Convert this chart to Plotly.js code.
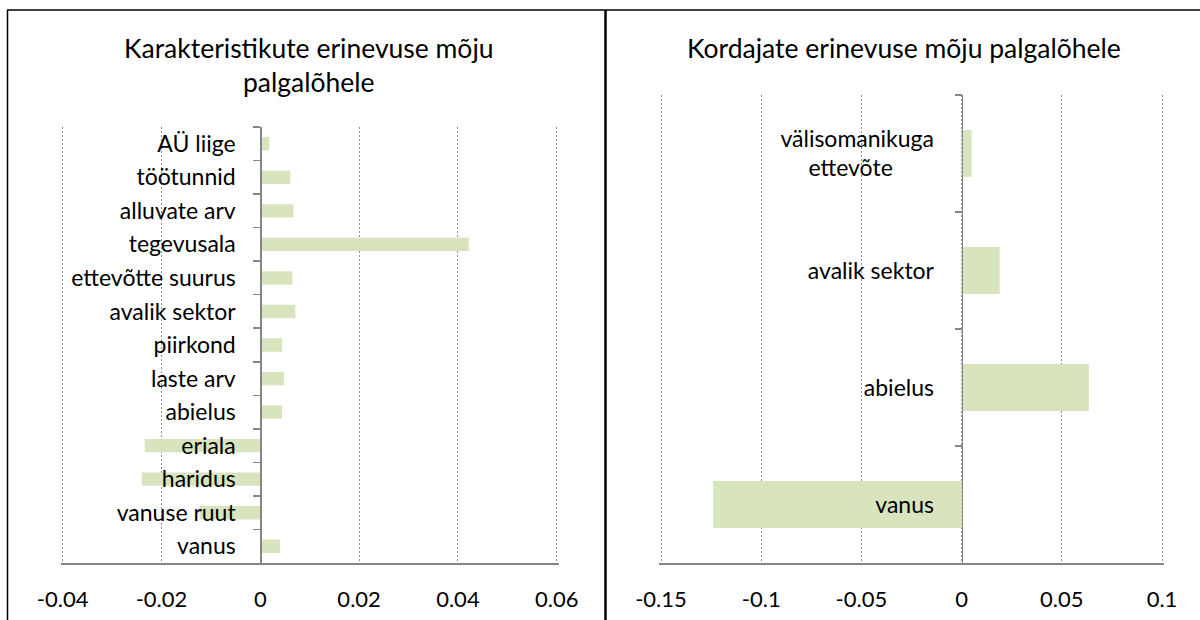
<!DOCTYPE html>
<html>
<head>
<meta charset="utf-8">
<script src="https://cdn.plot.ly/plotly-3.0.1.min.js"></script>
<style>html,body{margin:0;padding:0;background:#fff;}#chart{width:1200px;height:620px;}</style>
</head>
<body>
<div id="chart"></div>
<script>
// Left chart: characteristics effect (top to bottom)
const leftCategories = ["AÜ liige", "töötunnid", "alluvate arv", "tegevusala", "ettevõtte suurus", "avalik sektor", "piirkond", "laste arv", "abielus", "eriala", "haridus", "vanuse ruut", "vanus"];
const leftValues = [0.0018, 0.0061, 0.0067, 0.0422, 0.0065, 0.0071, 0.0044, 0.0048, 0.0044, -0.0234, -0.0240, -0.0123, 0.0040];
const leftTickVals = [-0.04, -0.02, 0, 0.02, 0.04, 0.06];
const leftTickText = ["-0.04", "-0.02", "0", "0.02", "0.04", "0.06"];

// Right chart: coefficients effect (top to bottom)
const NB = "\u00a0";
const rightCategories = ["välisomanikuga<br>ettevõte" + NB.repeat(7), "avalik sektor", "abielus", "vanus"];
const rightValues = [0.0050, 0.0190, 0.0635, -0.1240];
const rightTickVals = [-0.15, -0.1, -0.05, 0, 0.05, 0.1];
const rightTickText = ["-0.15", "-0.1", "-0.05", "0", "0.05", "0.1"];

const leftTitle = "Karakteristikute erinevuse mõju<br>palgalõhele";
const rightTitle = "Kordajate erinevuse mõju palgalõhele";

const W = 1200, H = 620;
const FONT = "Lato, 'Noto Sans', sans-serif";
const barColor = "#d7e4bd";
const axisColor = "#868686";
const gridColor = "#8f8f8f";

const PAD = 2; // px of padding so edge gridlines are kept
const leftRange = [-0.04, 0.06];
const rightRange = [-0.15, 0.1];
const leftPx = [62.7, 556.7];
const rightPx = [661, 1162];
const leftYDom = [1 - 563 / H, 1 - 127 / H];
const rightYDom = [1 - 563 / H, 1 - 95 / H];

function padded(range, px) {
  const u = (range[1] - range[0]) / (px[1] - px[0]);
  return {
    range: [range[0] - PAD * u, range[1] + PAD * u],
    domain: [(px[0] - PAD) / W, (px[1] + PAD) / W],
    zero: (px[0] + (0 - range[0]) / u) / W
  };
}
const L = padded(leftRange, leftPx);
const R = padded(rightRange, rightPx);

const traces = [
  {type: "bar", orientation: "h", y: leftCategories, x: leftValues, xaxis: "x", yaxis: "y",
   marker: {color: barColor, line: {width: 0}}, hoverinfo: "x+y"},
  {type: "bar", orientation: "h", y: rightCategories, x: rightValues, xaxis: "x2", yaxis: "y2",
   marker: {color: barColor, line: {width: 0}}, hoverinfo: "x+y"}
];

function xAxis(P, vals, text, anchor) {
  return {
    domain: P.domain, anchor: anchor, range: P.range,
    tickvals: vals, ticktext: text,
    showgrid: true, gridcolor: gridColor, griddash: "2px,2px", gridwidth: 1,
    zeroline: false, showline: true, linecolor: axisColor, linewidth: 1.5,
    ticks: "", ticklabelstandoff: 16,
    tickfont: {family: FONT, size: 22, color: "#000"},
    fixedrange: true
  };
}
function yAxis(dom, pos, standoff) {
  return {
    domain: dom, anchor: "free", position: pos,
    type: "category", autorange: "reversed",
    showgrid: false, zeroline: false,
    showline: true, linecolor: axisColor, linewidth: 1.5,
    ticks: "outside", tickson: "boundaries", ticklen: 7, tickcolor: axisColor, tickwidth: 1.5,
    ticklabelstandoff: standoff,
    tickfont: {family: FONT, size: 23, color: "#000"},
    fixedrange: true
  };
}

const layout = {
  width: W, height: H,
  margin: {l: 0, r: 0, t: 0, b: 0},
  paper_bgcolor: "#fff", plot_bgcolor: "rgba(0,0,0,0)",
  showlegend: false,
  bargap: 0.6,
  font: {family: FONT, color: "#000"},
  xaxis: xAxis(L, leftTickVals, leftTickText, "y"),
  yaxis: yAxis(leftYDom, L.zero, 20),
  xaxis2: xAxis(R, rightTickVals, rightTickText, "y2"),
  yaxis2: yAxis(rightYDom, R.zero, 23),
  annotations: [
    {text: leftTitle, xref: "paper", yref: "paper", x: 309 / W, y: 1 - 65 / H,
     xanchor: "center", yanchor: "middle", showarrow: false, align: "center",
     font: {family: FONT, size: 26.5, color: "#000"}},
    {text: rightTitle, xref: "paper", yref: "paper", x: 904 / W, y: 1 - 48 / H,
     xanchor: "center", yanchor: "middle", showarrow: false, align: "center",
     font: {family: FONT, size: 26.5, color: "#000"}}
  ],
  shapes: [
    {type: "line", xref: "paper", yref: "paper", x0: 7 / W, x1: 1, y0: 1 - 10 / H, y1: 1 - 10 / H, line: {color: "#000", width: 1.5}},
    {type: "line", xref: "paper", yref: "paper", x0: 7.5 / W, x1: 7.5 / W, y0: 0, y1: 1 - 10 / H, line: {color: "#000", width: 1.5}},
    {type: "line", xref: "paper", yref: "paper", x0: 605.5 / W, x1: 605.5 / W, y0: 0, y1: 1 - 10 / H, line: {color: "#000", width: 2.5}}
  ]
};

Plotly.newPlot("chart", traces, layout, {displayModeBar: false, staticPlot: true});
</script>
</body>
</html>
